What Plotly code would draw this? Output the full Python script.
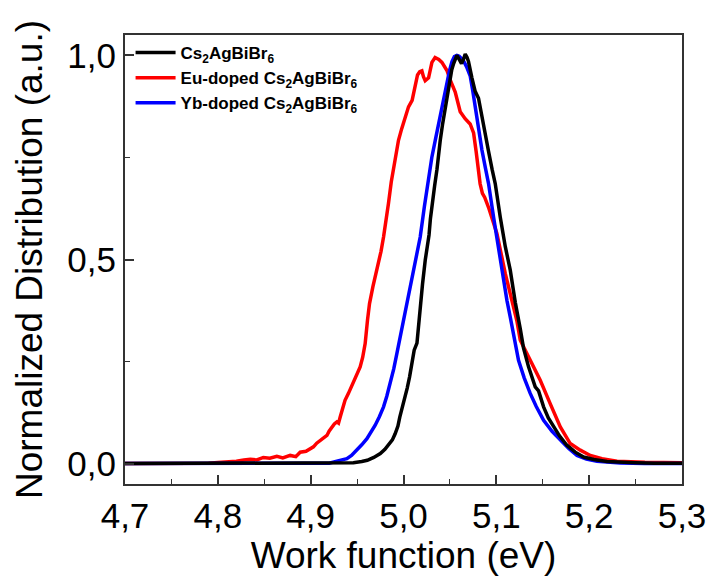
import plotly.graph_objects as go

# ---- data ----
x_black = [4.700, 4.800, 4.900, 4.946, 4.955, 4.961, 4.968, 4.975, 4.980, 4.984, 4.988, 4.991,
           4.994, 4.996, 4.999, 5.002, 5.004, 5.0065, 5.009, 5.0115, 5.0145, 5.0165, 5.018, 5.0205,
           5.0234, 5.026, 5.0275, 5.029, 5.031, 5.0335, 5.036, 5.0377, 5.0396, 5.042, 5.045, 5.0478,
           5.0503, 5.052, 5.054, 5.0575, 5.060, 5.0625, 5.0645, 5.0665, 5.0685, 5.070, 5.0737, 5.0772,
           5.0808, 5.0835, 5.0875, 5.0916, 5.0955, 5.0988, 5.1042, 5.1096, 5.115, 5.1204, 5.1258,
           5.1293, 5.1347, 5.1395, 5.1419, 5.1455, 5.1509, 5.156, 5.1617, 5.168, 5.176, 5.185, 5.194,
           5.205, 5.2192, 5.235, 5.25, 5.27, 5.30]
y_black = [0.000, 0.000, 0.000, 0.002, 0.005, 0.008, 0.015, 0.0245, 0.035, 0.045, 0.058, 0.073,
           0.092, 0.114, 0.140, 0.163, 0.185, 0.212, 0.245, 0.278, 0.295, 0.350, 0.390, 0.440,
           0.498, 0.540, 0.560, 0.600, 0.640, 0.680, 0.720, 0.765, 0.792, 0.830, 0.874, 0.910,
           0.945, 0.965, 0.980, 1.000, 0.990, 0.980, 0.990, 1.003, 0.995, 0.985, 0.945, 0.912,
           0.895, 0.865, 0.815, 0.765, 0.720, 0.686, 0.604, 0.532, 0.474, 0.395, 0.330,
           0.283, 0.237, 0.205, 0.188, 0.178, 0.139, 0.112, 0.090, 0.068, 0.045, 0.028, 0.016,
           0.010, 0.005, 0.003, 0.002, 0.001, 0.001]

x_eu = [4.700, 4.760, 4.790, 4.800, 4.810, 4.820, 4.828, 4.835, 4.842, 4.849, 4.856, 4.8636,
        4.870, 4.8779, 4.884, 4.8887, 4.895, 4.903, 4.9065, 4.9102, 4.914, 4.9175, 4.920, 4.9228,
        4.9255, 4.9282, 4.930, 4.9318, 4.934, 4.937, 4.9407, 4.944, 4.948, 4.9533, 4.956, 4.9587,
        4.9612, 4.9634, 4.967, 4.970, 4.9731, 4.9758, 4.9785, 4.981, 4.9838, 4.9868, 4.9892, 4.992,
        4.9946, 4.998, 5.001, 5.0054, 5.0093, 5.012, 5.0151, 5.0175, 5.0198, 5.0215, 5.0234, 5.027,
        5.0288, 5.0306, 5.034, 5.038, 5.0414, 5.0468, 5.0503, 5.0557, 5.0611, 5.0664, 5.0718,
        5.0755, 5.0782, 5.0825, 5.085, 5.0875, 5.092, 5.0975, 5.1006, 5.1096, 5.122, 5.1258,
        5.1365, 5.1473, 5.158, 5.1689, 5.1796, 5.1904, 5.2012, 5.2138, 5.23, 5.26, 5.30]
y_eu = [0.000, 0.000, 0.001, 0.003, 0.004, 0.006, 0.009, 0.0105, 0.009, 0.015, 0.013, 0.018,
        0.014, 0.020, 0.017, 0.028, 0.030, 0.041, 0.050, 0.057, 0.062, 0.069, 0.080, 0.090,
        0.097, 0.102, 0.099, 0.114, 0.135, 0.155, 0.172, 0.190, 0.212, 0.237, 0.260, 0.294,
        0.351, 0.392, 0.433, 0.460, 0.490, 0.520, 0.555, 0.590, 0.637, 0.690, 0.720, 0.755,
        0.792, 0.820, 0.840, 0.874, 0.890, 0.920, 0.952, 0.960, 0.962, 0.948, 0.938, 0.945,
        0.965, 0.983, 0.995, 0.990, 0.983, 0.963, 0.940, 0.910, 0.862, 0.845, 0.832,
        0.810, 0.765, 0.686, 0.662, 0.652, 0.625, 0.585, 0.564, 0.466, 0.351, 0.302,
        0.253, 0.204, 0.147, 0.090, 0.049, 0.033, 0.020, 0.012, 0.006, 0.003, 0.002]

x_yb = [4.700, 4.900, 4.920, 4.9282, 4.934, 4.939, 4.944, 4.9498, 4.955, 4.9606, 4.965, 4.9695,
        4.974, 4.9785, 4.982, 4.9857, 4.9895, 4.9929, 4.9965, 5.000, 5.005, 5.0108, 5.0145, 5.018,
        5.0225, 5.027, 5.0305, 5.0342, 5.038, 5.0414, 5.0445, 5.0468, 5.0495, 5.0522, 5.0548,
        5.0575, 5.060, 5.0625, 5.065, 5.068, 5.0718, 5.0745, 5.0772, 5.080, 5.0826, 5.0845, 5.088,
        5.0916, 5.097, 5.1024, 5.1078, 5.1114, 5.115, 5.1195, 5.1239, 5.130, 5.1365, 5.143, 5.1509,
        5.160, 5.1689, 5.178, 5.1869, 5.197, 5.2084, 5.220, 5.2335, 5.26, 5.30]
y_yb = [0.000, 0.000, 0.001, 0.006, 0.009, 0.012, 0.020, 0.033, 0.046, 0.061, 0.077, 0.094,
        0.115, 0.139, 0.165, 0.196, 0.232, 0.270, 0.310, 0.351, 0.410, 0.474, 0.520, 0.555,
        0.630, 0.705, 0.750, 0.792, 0.835, 0.874, 0.910, 0.935, 0.962, 0.985, 0.997,
        1.000, 0.998, 0.992, 0.985, 0.972, 0.950, 0.915, 0.874, 0.838, 0.800, 0.768, 0.727,
        0.686, 0.604, 0.523, 0.441, 0.400, 0.359, 0.305, 0.253, 0.210, 0.172, 0.140, 0.106,
        0.079, 0.057, 0.037, 0.020, 0.011, 0.006, 0.003, 0.0015, 0.0005, 0.000]

names = ["Cs<sub>2</sub>AgBiBr<sub>6</sub>",
         "Eu-doped Cs<sub>2</sub>AgBiBr<sub>6</sub>",
         "Yb-doped Cs<sub>2</sub>AgBiBr<sub>6</sub>"]
colors = ["#000000", "#FF0000", "#0000FF"]

x_ticks = [4.7, 4.8, 4.9, 5.0, 5.1, 5.2, 5.3]
y_ticks = [0.0, 0.5, 1.0]

FONT = "Liberation Sans, Arial, sans-serif"

fig = go.Figure()
# draw order: red, blue, black (black on top); legend order black, red, blue
fig.add_trace(go.Scatter(x=x_eu, y=y_eu, mode="lines", name="<b>" + names[1] + "</b>",
                         line=dict(color=colors[1], width=3.5), legendrank=2))
fig.add_trace(go.Scatter(x=x_yb, y=y_yb, mode="lines", name="<b>" + names[2] + "</b>",
                         line=dict(color=colors[2], width=3.5), legendrank=3))
fig.add_trace(go.Scatter(x=x_black, y=y_black, mode="lines", name="<b>" + names[0] + "</b>",
                         line=dict(color=colors[0], width=3.5), legendrank=1))

axis_common = dict(
    showline=True, linewidth=2, linecolor="#333333", mirror=True,
    ticks="inside", ticklen=9, tickwidth=1.5, tickcolor="#333333",
    showgrid=False, zeroline=False,
    tickfont=dict(family=FONT, size=35, color="#000000"),
    tickformat=".1f",
)

fig.update_xaxes(range=[4.7, 5.3], tickvals=x_ticks, **axis_common,
                 minor=dict(ticks="inside", ticklen=5, tickwidth=1.2, tickcolor="#333333", dtick=0.05, tick0=4.7),
                 title=dict(text="Work function (eV)", font=dict(family=FONT, size=37, color="#000000"), standoff=8))
fig.update_yaxes(range=[-0.05, 1.05], tickvals=y_ticks, **axis_common,
                 minor=dict(ticks="inside", ticklen=5, tickwidth=1.2, tickcolor="#333333", dtick=0.25, tick0=0),
                 title=dict(text="Normalized Distribution (a.u.)", font=dict(family=FONT, size=37, color="#000000"), standoff=13))

fig.update_layout(
    width=710, height=577,
    margin=dict(l=125, r=28, t=35, b=93, autoexpand=False),
    paper_bgcolor="white", plot_bgcolor="white",
    separators=",.",
    showlegend=True,
    legend=dict(x=0.01, y=1.0, xanchor="left", yanchor="top",
                font=dict(family=FONT, size=17, color="#000000"),
                bgcolor="rgba(0,0,0,0)", itemwidth=40),
)

fig.write_html("out.html")
